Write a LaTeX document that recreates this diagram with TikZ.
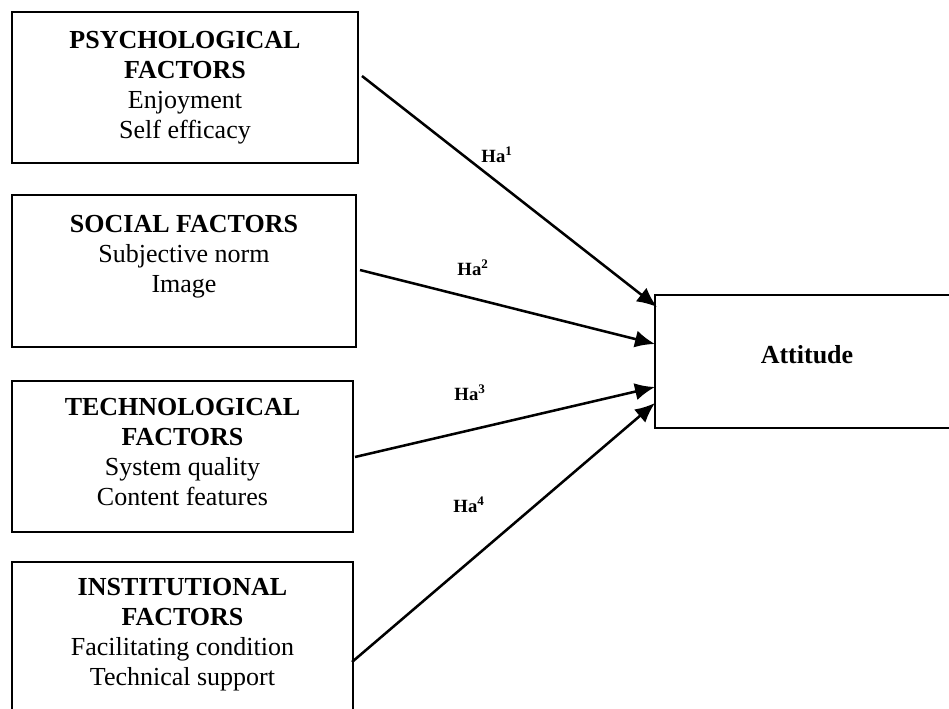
\documentclass[tikz,border=0pt]{standalone}
\usepackage{fontspec}
\setmainfont{Liberation Serif}
\usetikzlibrary{arrows.meta}
\begin{document}
\begin{tikzpicture}[x=0.75pt,y=-0.75pt,
  box/.style={draw=black,line width=2pt,rectangle,inner sep=0pt,outer sep=0pt},
  boxtext/.style={anchor=north,align=center,inner sep=0pt,font=\fontsize{19.5}{22.4}\selectfont},
  conn/.style={line width=1.9pt,-{Latex[length=15pt,width=13pt]}},
  hlabel/.style={font=\fontsize{14}{16}\selectfont\bfseries,inner sep=0pt}]
\useasboundingbox (0,0) rectangle (949,709);
\fill[white] (0,0) rectangle (949,709);
% boxes
\node[box,minimum width=259.5pt,minimum height=113.25pt] (b1) at (185,87.5) {};
\node[box,minimum width=258pt,minimum height=114pt] (b2) at (184,271) {};
\node[box,minimum width=255.75pt,minimum height=113.25pt] (b3) at (182.5,456.5) {};
\node[box,minimum width=255.75pt,minimum height=117pt] (b4) at (182.5,640) {};
\node[box,minimum width=230.25pt,minimum height=99.75pt] (att) at (808.5,361.5) {};
% texts
\node[boxtext] (t1) at (185,31) {\textbf{PSYCHOLOGICAL}\\\textbf{FACTORS}\\Enjoyment\\Self efficacy};
\node[boxtext] (t2) at (184,215) {\textbf{SOCIAL FACTORS}\\Subjective norm\\Image};
\node[boxtext] (t3) at (182.5,398) {\textbf{TECHNOLOGICAL}\\\textbf{FACTORS}\\System quality\\Content features};
\node[boxtext] (t4) at (182.5,578) {\textbf{INSTITUTIONAL}\\\textbf{FACTORS}\\Facilitating condition\\Technical support};
\node[boxtext,font=\fontsize{19.5}{22.4}\selectfont\bfseries,anchor=center] (ta) at (807,355) {Attitude};
% connector ends
\coordinate (s1) at (362,76);
\coordinate (s2) at (360,270);
\coordinate (s3) at (355,457);
\coordinate (s4) at (352,662);
\coordinate (e1) at (657,307);
\coordinate (e2) at (655,344);
\coordinate (e3) at (655,387);
\coordinate (e4) at (655,403);
\draw[conn] (s1) -- (e1);
\draw[conn] (s2) -- (e2);
\draw[conn] (s3) -- (e3);
\draw[conn] (s4) -- (e4);
% labels
\node[hlabel] (h1) at (497,155) {Ha\textsuperscript{1}};
\node[hlabel] (h2) at (473,268) {Ha\textsuperscript{2}};
\node[hlabel] (h3) at (470,393) {Ha\textsuperscript{3}};
\node[hlabel] (h4) at (469,505) {Ha\textsuperscript{4}};
\end{tikzpicture}
\end{document}
